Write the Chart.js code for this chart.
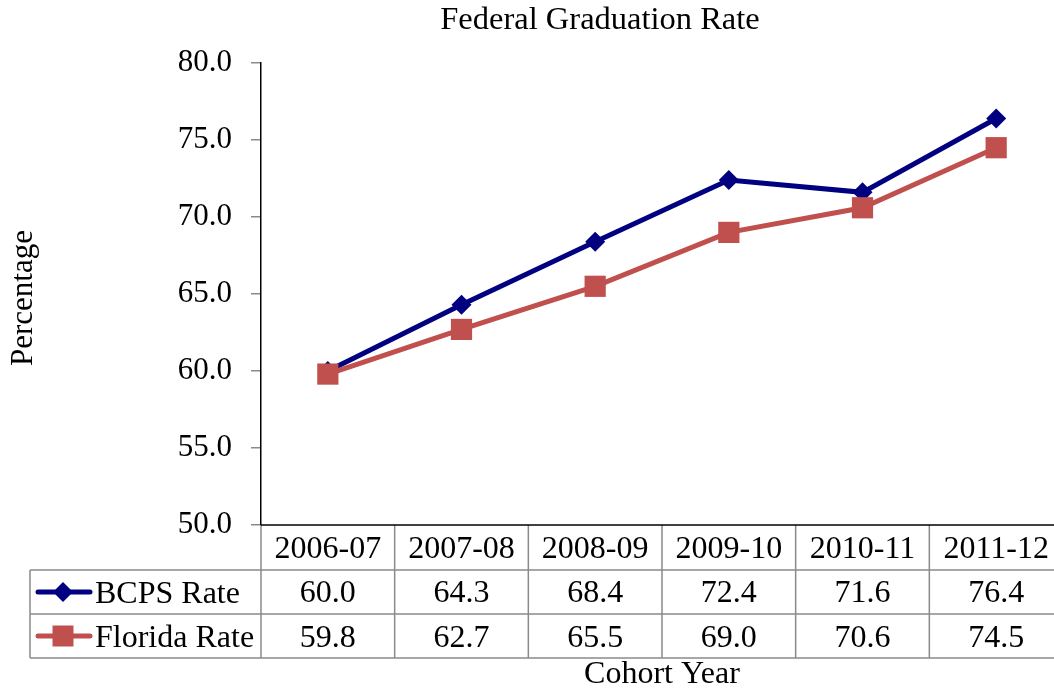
<!DOCTYPE html>
<html>
<head>
<meta charset="utf-8">
<script src="https://cdn.jsdelivr.net/npm/chart.js@4.4.1/dist/chart.umd.min.js"></script>
<style>
  html, body { margin: 0; padding: 0; background: #fff; overflow: hidden; }
  canvas { display: block; }
</style>
</head>
<body>
<canvas id="c" width="1063" height="692"></canvas>
<script>
const categories = ['2006-07', '2007-08', '2008-09', '2009-10', '2010-11', '2011-12'];
const bcpsRate = [60.0, 64.3, 68.4, 72.4, 71.6, 76.4];
const floridaRate = [59.8, 62.7, 65.5, 69.0, 70.6, 74.5];
const seriesNames = ['BCPS Rate', 'Florida Rate'];
const yTicks = [50, 55, 60, 65, 70, 75, 80];

const FONT = "'Liberation Serif', 'Times New Roman', serif";
const NAVY = '#000080';
const RED = '#C0504D';
const GRID = '#8a8a8a';

const tablePlugin = {
  id: 'tablePlugin',
  afterDraw(chart) {
    const ctx = chart.ctx;
    const xs = chart.scales.x;
    const area = chart.chartArea;
    const step = xs.getPixelForValue(1) - xs.getPixelForValue(0);
    const top = area.bottom;
    const row1 = top + 45, row2 = row1 + 44, row3 = row2 + 44;
    const legendLeft = 30;
    ctx.save();
    ctx.strokeStyle = GRID;
    ctx.lineWidth = 1.5;
    ctx.beginPath();
    [row1, row2, row3].forEach(y => { ctx.moveTo(legendLeft, y); ctx.lineTo(chart.width, y); });
    ctx.moveTo(legendLeft, row1); ctx.lineTo(legendLeft, row3);
    for (let i = 0; i <= categories.length; i++) {
      const x = xs.getPixelForValue(0) - step / 2 + i * step;
      ctx.moveTo(x, top); ctx.lineTo(x, row3);
    }
    ctx.stroke();
    ctx.strokeStyle = '#000';
    ctx.lineWidth = 1.5;
    ctx.beginPath();
    ctx.moveTo(area.left, top); ctx.lineTo(chart.width, top);
    ctx.stroke();

    ctx.fillStyle = '#000';
    ctx.font = '32px ' + FONT;
    ctx.textAlign = 'center';
    ctx.textBaseline = 'alphabetic';
    const rows = [bcpsRate, floridaRate];
    categories.forEach((c, i) => {
      const x = xs.getPixelForValue(i);
      ctx.fillText(c, x, top + 33);
      ctx.fillText(rows[0][i].toFixed(1), x, row1 + 32);
      ctx.fillText(rows[1][i].toFixed(1), x, row2 + 33);
    });
    const keys = [
      { y: (row1 + row2) / 2, color: NAVY, style: 'diamond' },
      { y: (row2 + row3) / 2, color: RED, style: 'square' }
    ];
    keys.forEach((k, i) => {
      ctx.strokeStyle = k.color;
      ctx.lineWidth = 5;
      ctx.lineCap = 'round';
      ctx.beginPath();
      ctx.moveTo(38, k.y); ctx.lineTo(90, k.y);
      ctx.stroke();
      ctx.fillStyle = k.color;
      ctx.beginPath();
      if (k.style === 'diamond') {
        ctx.moveTo(63 - 10, k.y); ctx.lineTo(63, k.y - 10); ctx.lineTo(63 + 10, k.y); ctx.lineTo(63, k.y + 10);
        ctx.closePath();
      } else {
        ctx.rect(63 - 10.5, k.y - 10.5, 21, 21);
      }
      ctx.fill();
      ctx.fillStyle = '#000';
      ctx.textAlign = 'left';
      ctx.fillText(seriesNames[i], 95, k.y + 11);
    });
    ctx.textAlign = 'center';
    ctx.fillText('Cohort Year', (area.left + area.right) / 2, 683);
    ctx.font = '32.5px ' + FONT;
    ctx.fillText('Federal Graduation Rate', 600, 29);
    ctx.font = '31px ' + FONT;
    ctx.save();
    ctx.translate(32, 298);
    ctx.rotate(-Math.PI / 2);
    ctx.fillText('Percentage', 0, 0);
    ctx.restore();
    ctx.restore();
  }
};

new Chart(document.getElementById('c'), {
  type: 'line',
  data: {
    labels: categories,
    datasets: [
      {
        label: seriesNames[0], data: bcpsRate, order: 1,
        borderColor: NAVY, backgroundColor: NAVY, borderWidth: 5,
        pointStyle: 'rectRot', pointRadius: 10, pointHoverRadius: 10,
        pointBackgroundColor: NAVY, pointBorderColor: NAVY, pointBorderWidth: 0,
        tension: 0, fill: false
      },
      {
        label: seriesNames[1], data: floridaRate, order: 0,
        borderColor: RED, backgroundColor: RED, borderWidth: 5,
        pointStyle: 'rect', pointRadius: 15, pointHoverRadius: 15,
        pointBackgroundColor: RED, pointBorderColor: RED, pointBorderWidth: 0,
        tension: 0, fill: false
      }
    ]
  },
  options: {
    responsive: false,
    animation: false,
    devicePixelRatio: 1,
    layout: { autoPadding: false, padding: { top: 63, bottom: 692 - 525, left: 0, right: 0 } },
    plugins: { legend: { display: false }, title: { display: false }, tooltip: { enabled: false } },
    scales: {
      x: { type: 'category', offset: true, display: false },
      y: {
        min: 50, max: 80,
        afterFit(scale) { scale.width = 261; },
        afterBuildTicks(scale) { scale.ticks = yTicks.map(v => ({ value: v })); },
        ticks: {
          color: '#000', padding: 19,
          font: { family: FONT, size: 31 },
          callback: v => Number(v).toFixed(1)
        },
        grid: { display: true, drawOnChartArea: false, drawTicks: true, tickLength: 10, color: GRID, lineWidth: 1.5 },
        border: { display: true, color: '#000', width: 1.5 }
      }
    }
  },
  plugins: [tablePlugin]
});
</script>
</body>
</html>
